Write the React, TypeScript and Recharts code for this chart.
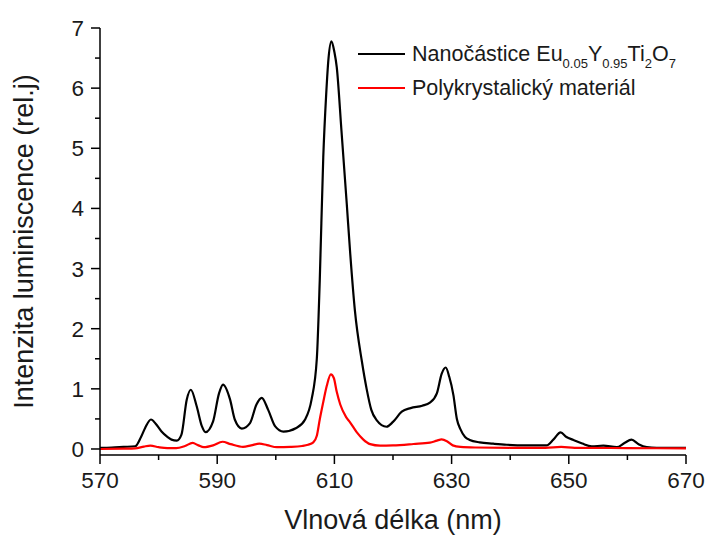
import React from "react";
import { LineChart, Line, XAxis, YAxis, Legend } from "recharts";

// emission spectra
const blackNm = [
  570, 572, 574, 576, 577, 577.7, 578.7, 579.5, 580.5, 581.5, 582.2, 583.1, 583.9, 584.8, 585.5,
  586.5, 587.4, 588, 589.3, 590.3, 591, 592.2, 593, 594.2, 595.6, 596.7, 597.6, 598.7, 599.9,
  601.3, 603.5, 605, 606.1, 607, 607.5, 608.1, 608.6, 609, 609.5, 610, 610.4, 611.2, 612.1,
  612.7, 613.5, 614.7, 615.5, 616.3, 617.2, 618.9, 620, 621.5, 623, 625, 626.3, 627.5, 628.3,
  629, 629.6, 630.3, 630.9, 631.5, 632.3, 633.1, 634.8, 637.1, 639.4, 642.8, 646.2, 647.4,
  648.6, 649.6, 650.8, 652.3, 653.9, 655.9, 658.2, 659.5, 660.7, 661.9, 663.3, 665, 670,
];
const blackVal = [
  0.02, 0.025, 0.035, 0.045, 0.2, 0.35, 0.49, 0.42, 0.29, 0.2, 0.155, 0.14, 0.24, 0.82, 0.985,
  0.71, 0.375, 0.28, 0.46, 0.92, 1.07, 0.82, 0.49, 0.34, 0.43, 0.74, 0.85, 0.65, 0.375,
  0.29, 0.35, 0.49, 0.82, 1.5, 2.8, 4.85, 5.9, 6.5, 6.78, 6.6, 6.35, 5.3, 4.09,
  3.25, 2.3, 1.45, 1.0, 0.65, 0.48, 0.37, 0.45, 0.62, 0.68, 0.72, 0.77, 0.93, 1.25,
  1.355, 1.2, 0.9, 0.5, 0.33, 0.2, 0.15, 0.11, 0.088, 0.07, 0.06, 0.06, 0.16,
  0.275, 0.2, 0.15, 0.09, 0.045, 0.055, 0.03, 0.1, 0.155, 0.08, 0.03, 0.02, 0.02,
];
const redNm = [
  570, 574, 576, 577.5, 578.6, 580, 581.5, 583, 584.5, 585.8, 586.8, 587.7, 589.3, 590.9, 592.3,
  594.4, 595.8, 597.2, 598.5, 600.2, 602.5, 604.5, 605.5, 606.4, 607, 607.5, 608.1, 608.7,
  609.4, 609.9, 610.4, 611, 612, 612.7, 613.8, 614.9, 616.1, 617.8, 620, 623.5, 626.3, 627.5,
  628.3, 629.2, 630.2, 631.5, 634, 640, 646, 648.7, 651, 660, 670,
];
const redVal = [
  0.0, 0.005, 0.01, 0.04, 0.055, 0.03, 0.015, 0.015, 0.05, 0.1, 0.06, 0.03, 0.06, 0.12, 0.08,
  0.035, 0.06, 0.09, 0.065, 0.03, 0.035, 0.05, 0.07, 0.11, 0.22, 0.49, 0.78, 1.05,
  1.24, 1.18, 0.95, 0.74, 0.53, 0.44, 0.28, 0.16, 0.08, 0.055, 0.06, 0.083, 0.105, 0.14,
  0.16, 0.13, 0.06, 0.035, 0.025, 0.02, 0.02, 0.035, 0.02, 0.015, 0.01,
];

const xTicks = [570, 580, 590, 600, 610, 620, 630, 640, 650, 660, 670];
const xLabels = [570, 590, 610, 630, 650, 670];
const yTicks = [0, 0.5, 1, 1.5, 2, 2.5, 3, 3.5, 4, 4.5, 5, 5.5, 6, 6.5, 7];

const blackData = blackNm.map((nm, i) => ({ nm, v: blackVal[i] }));
const redData = redNm.map((nm, i) => ({ nm, v: redVal[i] }));

const FONT = '"Liberation Sans", Arial, sans-serif';
const TXT = "#1a1a1a";

function BottomTick(props: any) {
  const { x, y, payload } = props;
  const axisY = y - 17;
  const major = xLabels.includes(payload.value);
  return (
    <g>
      <line x1={x} x2={x} y1={axisY} y2={axisY + (major ? 9 : 5)} stroke="#000" strokeWidth={1.5} />
      {major && (
        <text x={x} y={y} dy="0.71em" textAnchor="middle" fontSize={22.5} fontFamily={FONT} fill={TXT}>
          {payload.value}
        </text>
      )}
    </g>
  );
}

function LeftTick(props: any) {
  const { x, y, payload } = props;
  const axisX = x + 16;
  const major = Number.isInteger(payload.value);
  return (
    <g>
      <line x1={axisX - (major ? 9 : 5)} x2={axisX} y1={y} y2={y} stroke="#000" strokeWidth={1.5} />
      {major && (
        <text x={x} y={y} dy="0.355em" textAnchor="end" fontSize={22.5} fontFamily={FONT} fill={TXT}>
          {payload.value}
        </text>
      )}
    </g>
  );
}

const NoTick = () => <g />;

const sub = (s: string) => (
  <span style={{ fontSize: 13, position: "relative", top: 7 }}>{s}</span>
);

function LegendBox() {
  const row = (color: string, content: React.ReactNode) => (
    <div style={{ display: "flex", alignItems: "center", height: 34 }}>
      <svg width={47} height={4} style={{ display: "block" }}>
        <line x1={0} x2={47} y1={2} y2={2} stroke={color} strokeWidth={2.2} />
      </svg>
      <span style={{ marginLeft: 7, fontSize: 21.5, fontFamily: FONT, color: TXT, whiteSpace: "nowrap" }}>
        {content}
      </span>
    </div>
  );
  return (
    <div>
      {row("#000", <>Nanočástice Eu{sub("0.05")}Y{sub("0.95")}Ti{sub("2")}O{sub("7")}</>)}
      {row("#ff0000", "Polykrystalický materiál")}
    </div>
  );
}

export default function App() {
  return (
    <div style={{ position: "absolute", left: 0, top: 0 }}>
      <LineChart width={708} height={536} margin={{ top: 28, right: 22, bottom: 0, left: 0 }}>
        <XAxis
          xAxisId={0}
          dataKey="nm"
          type="number"
          domain={[570, 670]}
          ticks={xTicks}
          interval={0}
          height={81}
          tickSize={9}
          tickMargin={8}
          tickLine={false}
          tick={<BottomTick />}
          axisLine={{ stroke: "#000", strokeWidth: 1.5 }}
          label={(p: any) => {
            const vb = p.viewBox;
            return (
              <text x={vb.x + vb.width / 2} y={vb.y + 74} textAnchor="middle" fontSize={27} fontFamily={FONT} fill={TXT}>
                Vlnová délka (nm)
              </text>
            );
          }}
        />
        <XAxis
          xAxisId="top"
          orientation="top"
          dataKey="nm"
          type="number"
          domain={[570, 670]}
          ticks={xTicks}
          interval={0}
          height={0}
          mirror
          tickSize={4}
          tick={NoTick}
          tickLine={{ stroke: "#000", strokeWidth: 1.5 }}
          axisLine={{ stroke: "#000", strokeWidth: 1.5 }}
        />
        <YAxis
          yAxisId={0}
          type="number"
          domain={[-0.1, 7]}
          allowDataOverflow
          ticks={yTicks}
          interval={0}
          width={100}
          tickSize={9}
          tickMargin={7}
          tickLine={false}
          tick={<LeftTick />}
          axisLine={{ stroke: "#000", strokeWidth: 1.5 }}
          label={(p: any) => {
            const vb = p.viewBox;
            const cx = 33;
            const cy = vb.y + vb.height / 2;
            return (
              <text
                x={cx}
                y={cy}
                transform={`rotate(-90 ${cx} ${cy})`}
                textAnchor="middle"
                fontSize={27}
                fontFamily={FONT}
                fill={TXT}
              >
                Intenzita luminiscence (rel.j)
              </text>
            );
          }}
        />
        <YAxis
          yAxisId="right"
          orientation="right"
          type="number"
          domain={[-0.1, 7]}
          ticks={yTicks}
          interval={0}
          width={0}
          mirror
          tickSize={4}
          tick={NoTick}
          tickLine={{ stroke: "#000", strokeWidth: 1.5 }}
          axisLine={{ stroke: "#000", strokeWidth: 1.5 }}
        />
        <Legend
          layout="vertical"
          align="center"
          verticalAlign="middle"
          wrapperStyle={{ left: 358, top: 37, width: 340 }}
          content={() => <LegendBox />}
        />
        <Line
          data={blackData}
          dataKey="v"
          type="monotone"
          stroke="#000"
          strokeWidth={2.2}
          dot={false}
          isAnimationActive={false}
        />
        <Line
          data={redData}
          dataKey="v"
          type="monotone"
          stroke="#ff0000"
          strokeWidth={2.2}
          dot={false}
          isAnimationActive={false}
        />
      </LineChart>
    </div>
  );
}
